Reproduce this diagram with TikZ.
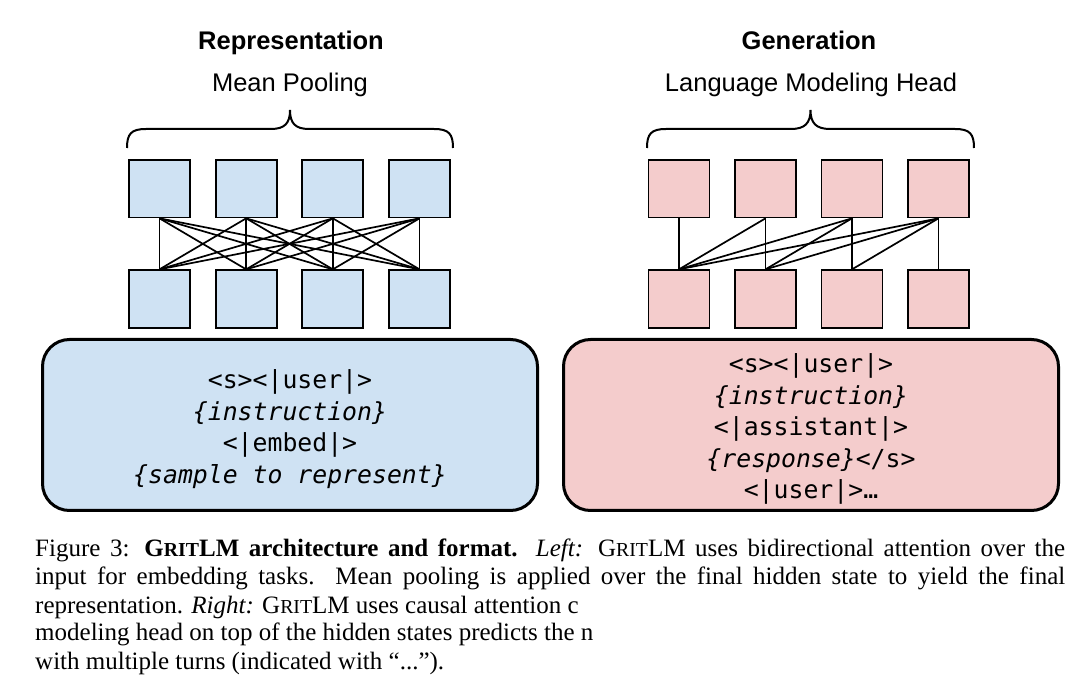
\documentclass[tikz,border=0pt]{standalone}
\usepackage{fontspec}
\setmainfont{Liberation Serif}
\setsansfont{Liberation Sans}
\setmonofont{DejaVu Sans Mono}
\definecolor{repblue}{HTML}{CFE2F3}
\definecolor{genpink}{HTML}{F4CCCC}
\newcommand{\gritsc}{G{\fontsize{19.8}{20}\selectfont RIT}LM}
\begin{document}
\begin{tikzpicture}[x=1pt,y=-1pt,
  sq/.style={draw=black,line width=1.8pt,minimum width=61pt,minimum height=57.5pt,inner sep=0pt},
  conn/.style={line width=1.7pt,black},
  bigbox/.style={draw=black,line width=3pt,rounded corners=27pt,minimum width=495pt,minimum height=171pt,inner sep=0pt},
  boxtext/.style={align=center,inner sep=0pt,font=\ttfamily\fontsize{24.8}{31.5}\selectfont},
  title/.style={anchor=base,inner sep=0pt,font=\sffamily\bfseries\fontsize{25.5}{30}\selectfont},
  sub/.style={anchor=base,inner sep=0pt,font=\sffamily\fontsize{25.5}{30}\selectfont},
  brace/.style={line width=2pt,black},
  captext/.style={anchor=base west,inner sep=0pt,font=\fontsize{25}{28}\selectfont}]
\useasboundingbox[fill=white] (0,0) rectangle (1080,684);

% headers
\node[title] (rt) at (291,50) {Representation};
\node[sub] (rs) at (290,92) {Mean Pooling};
\node[title] (gt) at (809,50) {Generation};
\node[sub] (gs) at (811,92) {Language Modeling Head};

% braces
\draw[brace] (127,148) .. controls (127,134) and (131,129) .. (146,129) -- (271,129)
  .. controls (285,129) and (290,123) .. (290,110) .. controls (290,123) and (295,129) .. (309,129)
  -- (434,129) .. controls (449,129) and (453,134) .. (453,148);
\draw[brace] (647,148) .. controls (647,134) and (651,129) .. (666,129) -- (791,129)
  .. controls (805,129) and (810.5,123) .. (810.5,110) .. controls (810.5,123) and (816,129) .. (830,129)
  -- (955,129) .. controls (970,129) and (974,134) .. (974,148);

% left squares
\foreach \i [evaluate=\i as \xx using 159.5+86.67*(\i-1)] in {1,...,4} {
  \node[sq,fill=repblue] (lt\i) at (\xx,188.7) {};
  \node[sq,fill=repblue] (lb\i) at (\xx,299) {};
}
% right squares
\foreach \i [evaluate=\i as \xx using 679+86.5*(\i-1)] in {1,...,4} {
  \node[sq,fill=genpink] (rt\i) at (\xx,188.7) {};
  \node[sq,fill=genpink] (rb\i) at (\xx,299) {};
}
% connectors
\foreach \i in {1,...,4} {
  \foreach \j in {1,...,4} { \draw[conn] (lt\i.south) -- (lb\j.north); }
  \foreach \j in {1,...,\i} { \draw[conn] (rt\i.south) -- (rb\j.north); }
}

% big boxes
\node[bigbox,fill=repblue] (repbox) at (290,425) {};
\node[boxtext] (reptext) at (290,429) {<s><|user|>\\{\itshape\{instruction\}}\\<|embed|>\\{\itshape\{sample to represent\}}};
\node[bigbox,fill=genpink] (genbox) at (811,425) {};
\node[boxtext] (gentext) at (811,429) {<s><|user|>\\{\itshape\{instruction\}}\\<|assistant|>\\{\itshape\{response\}}</s>\\<|user|>…};

% caption
\node[captext] (c1) at (35,557) {\makebox[1030pt][s]{Figure 3: \textbf{\gritsc{} architecture and format.} \textit{Left:} \gritsc{} uses bidirectional attention over the}};
\node[captext] (c2) at (35,585) {\makebox[1030pt][s]{input for embedding tasks.\ \ Mean pooling is applied over the final hidden state to yield the final}};
\node[captext] (c3) at (35,613) {representation. \textit{Right:} \gritsc{} uses causal attention c};
\node[captext] (c4) at (35,641) {modeling head on top of the hidden states predicts the n};
\node[captext] (c5) at (35,669) {with multiple turns (indicated with “...”).};
\end{tikzpicture}
\end{document}
